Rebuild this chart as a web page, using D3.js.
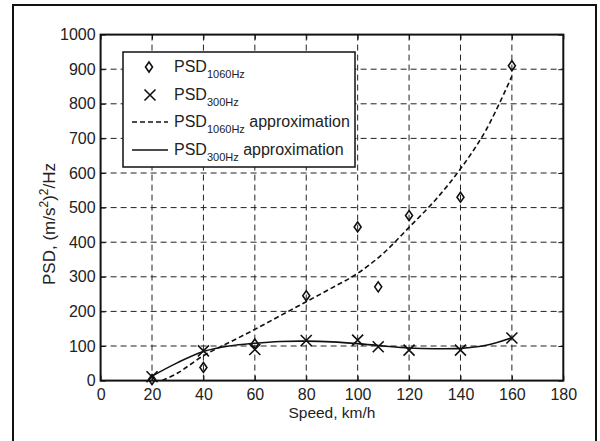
<!DOCTYPE html>
<html><head><meta charset="utf-8">
<script src="https://cdn.jsdelivr.net/npm/d3@7"></script>
<style>
html,body{margin:0;padding:0;background:#fff;}
svg{display:block;font-family:"Liberation Sans",Arial,Helvetica,sans-serif;}
</style></head>
<body>
<svg id="chart" width="600" height="441"></svg>
<script>
// ---- data ----
const xTicks = [0,20,40,60,80,100,120,140,160,180];
const yTicks = [0,100,200,300,400,500,600,700,800,900,1000];

const speed1060 = [20,40,60,80,100,108,120,140,160];
const psd1060   = [3,38,106,245,444,271,477,530,910];

const speed300 = [20,40,60,80,100,108,120,140,160];
const psd300   = [11,86,90,116,117,98,88,88,123];

const approx1060Speed = [24,30,40,50,60,70,80,90,100,110,120,130,140,150,160];
const approx1060Psd   = [0,22,72,110,148,188,228,268,310,368,443,520,612,725,880];

const approx300Speed = [20,30,40,50,60,70,80,90,100,110,120,130,140,150,160];
const approx300Psd   = [13,52,84,100,108,113,114,112,107,100,94,92,93,102,124];

const legendLabels = [
  {main:"PSD", sub:"1060Hz", tail:""},
  {main:"PSD", sub:"300Hz", tail:""},
  {main:"PSD", sub:"1060Hz", tail:" approximation"},
  {main:"PSD", sub:"300Hz", tail:" approximation"}
];

// ---- layout ----
const svg = d3.select("#chart");
const L = 100.6, R = 563.3, T = 34.6, B = 380.6;
const x = d3.scaleLinear().domain([0,180]).range([L,R]);
const y = d3.scaleLinear().domain([0,1000]).range([B,T]);

// outer frame
svg.append("path")
  .attr("d","M13,441 V5 H596 V441")
  .attr("fill","none").attr("stroke","#111").attr("stroke-width",2);

// grid
const g = svg.append("g");
g.selectAll(".vg").data(xTicks.slice(1,-1)).enter().append("line")
  .attr("x1",d=>x(d)).attr("x2",d=>x(d)).attr("y1",T).attr("y2",B)
  .attr("stroke","#222").attr("stroke-width",1).attr("stroke-dasharray","6,4");
g.selectAll(".hg").data(yTicks.slice(1,-1)).enter().append("line")
  .attr("x1",L).attr("x2",R).attr("y1",d=>y(d)).attr("y2",d=>y(d))
  .attr("stroke","#222").attr("stroke-width",1).attr("stroke-dasharray","6,4");

// axes
const fs = 16;
const xAxis = svg.append("g").attr("transform",`translate(0,${B})`)
  .call(d3.axisBottom(x).tickValues(xTicks).tickSize(-5).tickPadding(8).tickFormat(d3.format("d")));
const yAxis = svg.append("g").attr("transform",`translate(${L},0)`)
  .call(d3.axisLeft(y).tickValues(yTicks).tickSize(-5).tickPadding(5).tickFormat(d3.format("d")));
const xTop = svg.append("g").attr("transform",`translate(0,${T})`)
  .call(d3.axisTop(x).tickValues(xTicks).tickSize(-5).tickFormat(""));
const yRight = svg.append("g").attr("transform",`translate(${R},0)`)
  .call(d3.axisRight(y).tickValues(yTicks).tickSize(-5).tickFormat(""));
[xAxis,yAxis,xTop,yRight].forEach(a=>{
  a.select(".domain").remove();
  a.selectAll(".tick line").attr("stroke","#111").attr("stroke-width",1);
  a.selectAll("text").attr("font-size",fs).attr("fill","#222")
   .attr("font-family","Liberation Sans,Arial,sans-serif");
});
// box
svg.append("rect").attr("x",L).attr("y",T).attr("width",R-L).attr("height",B-T)
  .attr("fill","none").attr("stroke","#111").attr("stroke-width",2);

// curves
const line = d3.line().x(d=>x(d[0])).y(d=>y(d[1])).curve(d3.curveCatmullRom);
svg.append("path").datum(d3.zip(approx1060Speed,approx1060Psd))
  .attr("d",line).attr("fill","none").attr("stroke","#111")
  .attr("stroke-width",1.6).attr("stroke-dasharray","5,3");
svg.append("path").datum(d3.zip(approx300Speed,approx300Psd))
  .attr("d",line).attr("fill","none").attr("stroke","#111")
  .attr("stroke-width",1.6);

// markers
function diamond(sel){
  sel.append("path").attr("d","M0,-5 L3.5,0 L0,5 L-3.5,0 Z")
    .attr("fill","none").attr("stroke","#111").attr("stroke-width",1.6);
}
function cross(sel){
  sel.append("path").attr("d","M-5.5,-5.5 L5.5,5.5 M-5.5,5.5 L5.5,-5.5")
    .attr("fill","none").attr("stroke","#111").attr("stroke-width",1.6);
}
svg.selectAll(".d1").data(d3.zip(speed1060,psd1060)).enter().append("g")
  .attr("transform",d=>`translate(${x(d[0])},${y(d[1])})`).call(diamond);
svg.selectAll(".c1").data(d3.zip(speed300,psd300)).enter().append("g")
  .attr("transform",d=>`translate(${x(d[0])},${y(d[1])})`).call(cross);

// axis labels
svg.append("text").attr("x",(L+R)/2).attr("y",418).attr("text-anchor","middle")
  .attr("font-size",15.5).attr("fill","#222").text("Speed, km/h");
const yl = svg.append("text").attr("transform",`translate(55,224) rotate(-90)`)
  .attr("text-anchor","middle").attr("font-size",17).attr("fill","#222");
yl.append("tspan").text("PSD, (m/s");
yl.append("tspan").attr("font-size",12).attr("dy",-7).text("2");
yl.append("tspan").attr("dy",7).text(")");
yl.append("tspan").attr("font-size",12).attr("dy",-7).text("2");
yl.append("tspan").attr("dy",7).text("/Hz");

// legend
const lg = svg.append("g");
lg.append("rect").attr("x",123).attr("y",52).attr("width",232).attr("height",115)
  .attr("fill","#fff").attr("stroke","#111").attr("stroke-width",1.5);
const rowY = [67,95,122,150];
legendLabels.forEach((lab,i)=>{
  const cy = rowY[i];
  if(i===0) lg.append("g").attr("transform",`translate(149,${cy})`).call(diamond);
  if(i===1) lg.append("g").attr("transform",`translate(150,${cy})`).call(cross);
  if(i===2) lg.append("line").attr("x1",132).attr("x2",168).attr("y1",cy).attr("y2",cy)
     .attr("stroke","#111").attr("stroke-width",1.6).attr("stroke-dasharray","5,3");
  if(i===3) lg.append("line").attr("x1",132).attr("x2",168).attr("y1",cy).attr("y2",cy)
     .attr("stroke","#111").attr("stroke-width",1.6);
  const t = lg.append("text").attr("x",174).attr("y",cy+5).attr("font-size",16).attr("fill","#222");
  t.append("tspan").text(lab.main);
  t.append("tspan").attr("font-size",11).attr("dy",6).text(lab.sub);
  if(lab.tail) t.append("tspan").attr("dy",-6).text(lab.tail);
});
</script>
</body></html>
